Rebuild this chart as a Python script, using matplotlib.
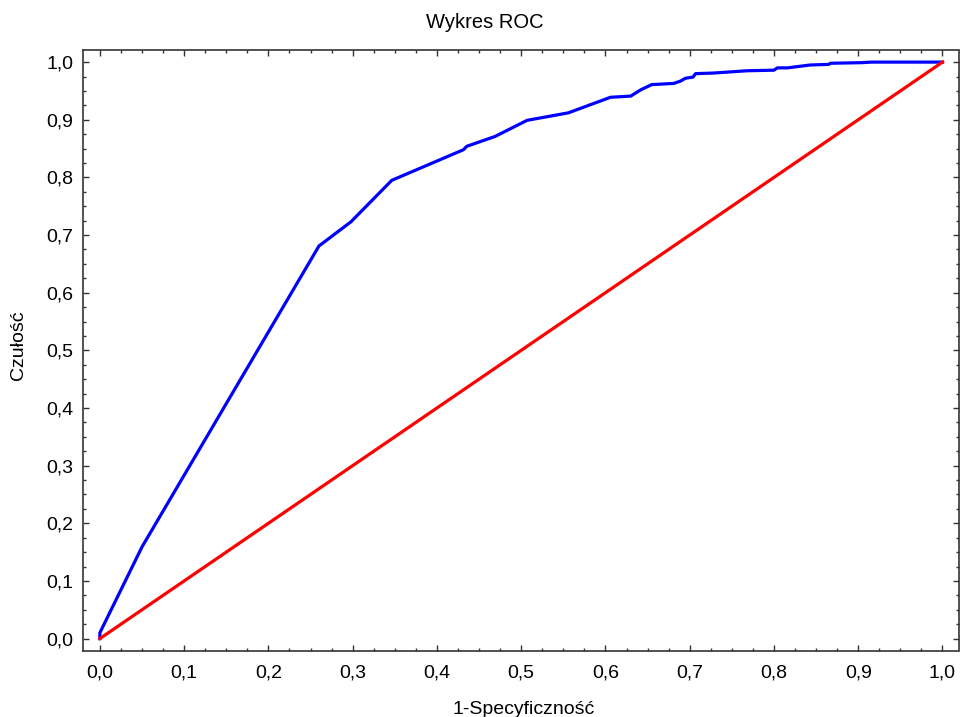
import matplotlib

matplotlib.use("Agg")
import matplotlib.pyplot as plt
from matplotlib.ticker import FuncFormatter, MultipleLocator

plt.rcParams["font.family"] = ["Liberation Sans", "DejaVu Sans"]

# ROC curve
fpr = [0.0, 0.0, 0.050, 0.260, 0.298, 0.3465, 0.4315, 0.4355, 0.469, 0.507,
       0.556, 0.606, 0.630, 0.642, 0.655, 0.681, 0.689, 0.695, 0.704, 0.707,
       0.728, 0.768, 0.800, 0.804, 0.816, 0.843, 0.865, 0.867, 0.903, 0.916, 1.0]
tpr = [0.0, 0.010, 0.159, 0.681, 0.723, 0.795, 0.848, 0.854, 0.871, 0.899,
       0.912, 0.939, 0.941, 0.952, 0.961, 0.963, 0.967, 0.972, 0.974, 0.980,
       0.981, 0.985, 0.986, 0.990, 0.990, 0.995, 0.996, 0.998, 0.999, 1.0, 1.0]
diag_x = [0.0, 1.0]
diag_y = [0.0, 1.0]

TITLE = "Wykres ROC"
XLABEL = "1-Specyficzność"
YLABEL = "Czułość"


def comma(v, _pos):
    return f"{v:.1f}".replace(".", ",")


fig = plt.figure(figsize=(9.6, 7.17), dpi=100)
ax = fig.add_axes([83 / 960, 1 - 651 / 717, (958.5 - 83) / 960, (651 - 50) / 717])

ax.plot(fpr, tpr, color="#0000ff", linewidth=2.3, solid_joinstyle="round", zorder=3)
ax.plot(diag_x, diag_y, color="#ff0000", linewidth=2.3, zorder=4)

ax.set_xlim(-0.02, 1.019)
ax.set_ylim(-0.0215, 1.021)
ax.xaxis.set_major_locator(MultipleLocator(0.1))
ax.xaxis.set_minor_locator(MultipleLocator(0.025))
ax.yaxis.set_major_locator(MultipleLocator(0.1))
ax.yaxis.set_minor_locator(MultipleLocator(0.025))
ax.xaxis.set_major_formatter(FuncFormatter(comma))
ax.yaxis.set_major_formatter(FuncFormatter(comma))

ax.tick_params(which="both", direction="in", top=True, right=True, color="#333333", width=1.0)
ax.tick_params(which="major", length=4.5, labelsize=14)
ax.tick_params(which="minor", length=2.5)
ax.tick_params(axis="y", which="major", pad=7)
ax.tick_params(axis="x", which="major", pad=10)
for spine in ax.spines.values():
    spine.set_color("#333333")
    spine.set_linewidth(1.2)

fig.text(485 / 960, 1 - 23 / 717, TITLE, ha="center", va="center", fontsize=14.5)
fig.text(524 / 960, 1 - 710 / 717, XLABEL, ha="center", va="center", fontsize=14)
fig.text(18 / 960, 1 - 345 / 717, YLABEL, ha="center", va="center", rotation=90, fontsize=14)

fig.savefig("out.png", dpi=100)
